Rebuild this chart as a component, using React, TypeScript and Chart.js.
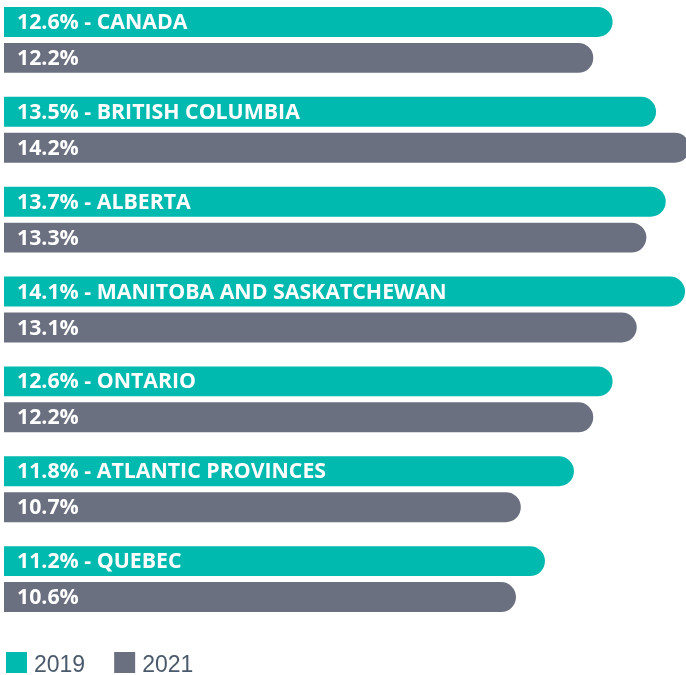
import React, { useEffect, useRef } from "react";
import { Chart, registerables } from "chart.js";

Chart.register(...registerables);

const categories = [
  "CANADA",
  "BRITISH COLUMBIA",
  "ALBERTA",
  "MANITOBA AND SASKATCHEWAN",
  "ONTARIO",
  "ATLANTIC PROVINCES",
  "QUEBEC",
];
const values2019 = [12.6, 13.5, 13.7, 14.1, 12.6, 11.8, 11.2];
const values2021 = [12.2, 14.2, 13.3, 13.1, 12.2, 10.7, 10.6];
const seriesLabels = ["2019", "2021"];

const TEAL = "#00b9af";
const GRAY = "#6b7080";

const barLabels = {
  id: "barLabels",
  afterDatasetsDraw(chart: any) {
    const ctx = chart.ctx;
    ctx.save();
    ctx.fillStyle = "#ffffff";
    ctx.font = "bold 21.3px 'Open Sans'";
    ctx.textBaseline = "middle";
    ctx.textAlign = "left";
    const x = chart.chartArea.left + 13;
    chart.data.datasets.forEach((ds: any, di: number) => {
      const meta = chart.getDatasetMeta(di);
      meta.data.forEach((bar: any, i: number) => {
        const v = ds.data[i];
        const text = di === 0 ? `${v.toFixed(1)}% - ${categories[i]}` : `${v.toFixed(1)}%`;
        ctx.fillText(text, x, bar.y + 1);
      });
    });
    ctx.restore();
  },
};

const customLegend = {
  id: "customLegend",
  afterDraw(chart: any) {
    const ctx = chart.ctx;
    ctx.save();
    ctx.font = "23px 'Liberation Sans', Arial, sans-serif";
    ctx.textBaseline = "alphabetic";
    ctx.textAlign = "left";
    let x = 6;
    const boxTop = chart.height - 23;
    chart.data.datasets.forEach((ds: any) => {
      ctx.fillStyle = ds.backgroundColor;
      ctx.fillRect(x, boxTop, 21, 21);
      ctx.fillStyle = "#4a5a6b";
      ctx.fillText(ds.label, x + 28, boxTop + 20);
      const w = ctx.measureText(ds.label).width;
      x += 28 + w + 29;
    });
    ctx.restore();
  },
};

export default function App() {
  const ref = useRef<HTMLCanvasElement | null>(null);
  useEffect(() => {
    if (!ref.current) return;
    const chart = new Chart(ref.current, {
      type: "bar",
      data: {
        labels: categories,
        datasets: [
          {
            label: seriesLabels[0],
            data: values2019,
            backgroundColor: TEAL,
            borderRadius: 15,
            borderSkipped: "start",
            categoryPercentage: 0.8,
            barPercentage: 0.833,
          },
          {
            label: seriesLabels[1],
            data: values2021,
            backgroundColor: GRAY,
            borderRadius: 15,
            borderSkipped: "start",
            categoryPercentage: 0.8,
            barPercentage: 0.833,
          },
        ],
      },
      options: {
        indexAxis: "y",
        animation: false,
        responsive: false,
        maintainAspectRatio: false,
        layout: { padding: { left: 4, right: 0, top: 0, bottom: 51 } },
        scales: {
          x: { display: false, min: 0, max: 14.12 },
          y: { display: false },
        },
        plugins: {
          tooltip: { enabled: false },
          legend: { display: false },
        },
      },
      plugins: [barLabels, customLegend],
    });
    return () => chart.destroy();
  }, []);
  return (
    <div style={{ position: "fixed", left: 0, top: -5, width: 686, height: 680 }}>
      <canvas ref={ref} width={686} height={680} style={{ display: "block" }} />
    </div>
  );
}
